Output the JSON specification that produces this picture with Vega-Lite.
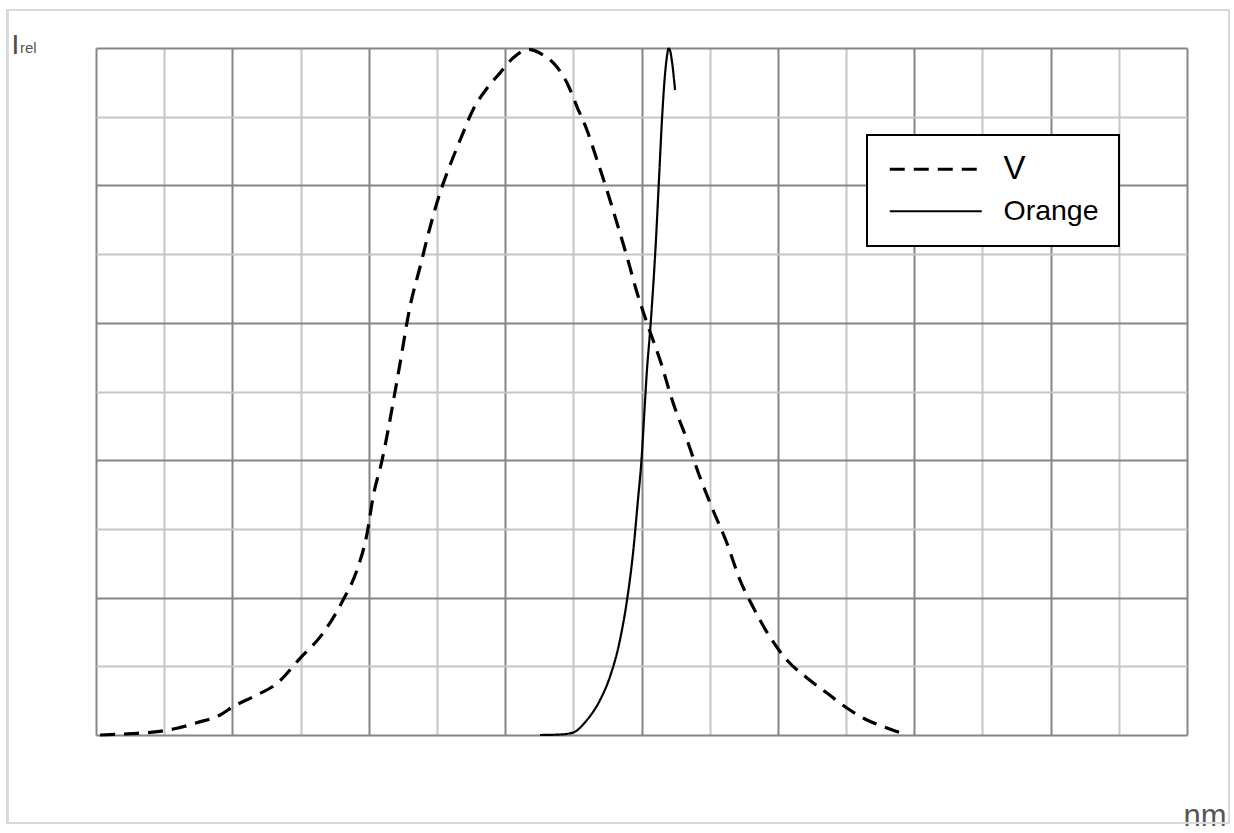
{
  "$schema": "https://vega.github.io/schema/vega-lite/v6.json",
  "width": 1091,
  "height": 687,
  "autosize": "none",
  "padding": {"left": 96, "top": 48, "right": 47, "bottom": 98},
  "background": "white",
  "config": {"view": {"stroke": null}, "font": "Liberation Sans"},
  "title": {"text": "rel", "orient": "top", "anchor": "start", "frame": "group", "offset": 0, "baseline": "alphabetic", "dx": -76, "dy": 59, "fontSize": 15, "fontWeight": "normal", "color": "#555555", "font": "Liberation Sans"},
  "data": {"values": [
    {"series": "V", "nm": 401.5, "rel": 0},
    {"series": "V", "nm": 415.0, "rel": 0.0025},
    {"series": "V", "nm": 422.4, "rel": 0.0048},
    {"series": "V", "nm": 429.7, "rel": 0.0098},
    {"series": "V", "nm": 437.0, "rel": 0.0179},
    {"series": "V", "nm": 445.5, "rel": 0.0291},
    {"series": "V", "nm": 450.2, "rel": 0.0412},
    {"series": "V", "nm": 457.6, "rel": 0.0557},
    {"series": "V", "nm": 466.4, "rel": 0.0753},
    {"series": "V", "nm": 474.8, "rel": 0.1116},
    {"series": "V", "nm": 483.2, "rel": 0.148},
    {"series": "V", "nm": 490.6, "rel": 0.1965},
    {"series": "V", "nm": 495.7, "rel": 0.2402},
    {"series": "V", "nm": 499.4, "rel": 0.2936},
    {"series": "V", "nm": 501.6, "rel": 0.3469},
    {"series": "V", "nm": 504.9, "rel": 0.4003},
    {"series": "V", "nm": 507.1, "rel": 0.444},
    {"series": "V", "nm": 508.9, "rel": 0.4833},
    {"series": "V", "nm": 511.5, "rel": 0.5415},
    {"series": "V", "nm": 515.1, "rel": 0.623},
    {"series": "V", "nm": 518.8, "rel": 0.6812},
    {"series": "V", "nm": 522.5, "rel": 0.7394},
    {"series": "V", "nm": 526.1, "rel": 0.7889},
    {"series": "V", "nm": 528.7, "rel": 0.818},
    {"series": "V", "nm": 533.5, "rel": 0.8661},
    {"series": "V", "nm": 538.2, "rel": 0.9098},
    {"series": "V", "nm": 543.4, "rel": 0.9418},
    {"series": "V", "nm": 548.1, "rel": 0.9636},
    {"series": "V", "nm": 552.9, "rel": 0.9854},
    {"series": "V", "nm": 558.5, "rel": 0.998},
    {"series": "V", "nm": 563.9, "rel": 0.9898},
    {"series": "V", "nm": 569.0, "rel": 0.9723},
    {"series": "V", "nm": 572.7, "rel": 0.9491},
    {"series": "V", "nm": 576.4, "rel": 0.9141},
    {"series": "V", "nm": 580.0, "rel": 0.8806},
    {"series": "V", "nm": 583.7, "rel": 0.837},
    {"series": "V", "nm": 587.3, "rel": 0.7933},
    {"series": "V", "nm": 591.0, "rel": 0.7453},
    {"series": "V", "nm": 594.7, "rel": 0.6958},
    {"series": "V", "nm": 598.4, "rel": 0.6434},
    {"series": "V", "nm": 602.0, "rel": 0.5997},
    {"series": "V", "nm": 606.8, "rel": 0.5459},
    {"series": "V", "nm": 611.6, "rel": 0.4833},
    {"series": "V", "nm": 616.7, "rel": 0.4294},
    {"series": "V", "nm": 621.4, "rel": 0.3755},
    {"series": "V", "nm": 626.2, "rel": 0.3275},
    {"series": "V", "nm": 631.3, "rel": 0.2795},
    {"series": "V", "nm": 636.1, "rel": 0.2256},
    {"series": "V", "nm": 640.9, "rel": 0.1863},
    {"series": "V", "nm": 647.1, "rel": 0.1426},
    {"series": "V", "nm": 653.3, "rel": 0.1092},
    {"series": "V", "nm": 660.7, "rel": 0.083},
    {"series": "V", "nm": 668.0, "rel": 0.0611},
    {"series": "V", "nm": 675.3, "rel": 0.0393},
    {"series": "V", "nm": 682.7, "rel": 0.0218},
    {"series": "V", "nm": 690.0, "rel": 0.0102},
    {"series": "V", "nm": 697.3, "rel": 0},
    {"series": "Orange", "nm": 562.8, "rel": 0},
    {"series": "Orange", "nm": 570.1, "rel": 0.0007},
    {"series": "Orange", "nm": 574.9, "rel": 0.0036},
    {"series": "Orange", "nm": 580.0, "rel": 0.0218},
    {"series": "Orange", "nm": 584.8, "rel": 0.0509},
    {"series": "Orange", "nm": 588.4, "rel": 0.0844},
    {"series": "Orange", "nm": 592.1, "rel": 0.1383},
    {"series": "Orange", "nm": 594.7, "rel": 0.1965},
    {"series": "Orange", "nm": 596.9, "rel": 0.2649},
    {"series": "Orange", "nm": 598.7, "rel": 0.3421},
    {"series": "Orange", "nm": 600.0, "rel": 0.4003},
    {"series": "Orange", "nm": 601.1, "rel": 0.4731},
    {"series": "Orange", "nm": 602.0, "rel": 0.5313},
    {"series": "Orange", "nm": 603.1, "rel": 0.5852},
    {"series": "Orange", "nm": 604.2, "rel": 0.6477},
    {"series": "Orange", "nm": 605.3, "rel": 0.7205},
    {"series": "Orange", "nm": 606.4, "rel": 0.8079},
    {"series": "Orange", "nm": 607.5, "rel": 0.8952},
    {"series": "Orange", "nm": 608.6, "rel": 0.9607},
    {"series": "Orange", "nm": 609.4, "rel": 0.9898},
    {"series": "Orange", "nm": 609.9, "rel": 0.9993},
    {"series": "Orange", "nm": 610.4, "rel": 0.9971},
    {"series": "Orange", "nm": 611.2, "rel": 0.9796},
    {"series": "Orange", "nm": 612.3, "rel": 0.9389}
  ]},
  "layer": [
    {
      "mark": {"type": "line", "color": "black", "interpolate": "monotone", "strokeCap": "butt"},
      "encoding": {
        "x": {"field": "nm", "type": "quantitative",
          "scale": {"domain": [400, 800], "nice": false, "zero": false},
          "axis": {"values": [400,425,450,475,500,525,550,575,600,625,650,675,700,725,750,775,800],
            "grid": true, "labels": false, "ticks": false, "domain": false,
            "gridColor": {"condition": {"test": "datum.value % 50 === 0", "value": "#858585"}, "value": "#c6c6c6"},
            "gridWidth": 2,
            "title": "nm", "titleX": 1087, "titleY": 90, "titleAlign": "left", "titleBaseline": "alphabetic",
            "titleFontSize": 31, "titleColor": "#555555", "titleFontWeight": "normal", "titleFont": "Liberation Sans"}},
        "y": {"field": "rel", "type": "quantitative",
          "scale": {"domain": [0, 1], "nice": false},
          "axis": {"values": [0,0.1,0.2,0.3,0.4,0.5,0.6,0.7,0.8,0.9,1],
            "grid": true, "labels": false, "ticks": false, "domain": false,
            "gridColor": {"condition": {"test": "round(datum.value*10) % 2 === 0", "value": "#858585"}, "value": "#c6c6c6"},
            "gridWidth": 2,
            "title": "I", "titleAngle": 0, "titleX": -85, "titleY": 5, "titleAlign": "left", "titleBaseline": "alphabetic",
            "titleFontSize": 28, "titleColor": "#4d4d4d", "titleFontWeight": "normal", "titleFont": "Liberation Sans"}},
        "strokeDash": {"field": "series", "type": "nominal",
          "scale": {"domain": ["V", "Orange"], "range": [[15, 9], [1, 0]]},
          "legend": {"title": null, "orient": "none", "legendX": 771, "legendY": 87, "direction": "vertical",
            "symbolType": "M-1,0H7", "symbolSize": 529, "symbolStrokeColor": "black", "symbolFillColor": "transparent", "symbolStrokeWidth": 3,
            "labelFontSize": 29, "labelFont": "Liberation Sans", "labelColor": "black", "labelOffset": 88,
            "padding": 20, "rowPadding": 10, "strokeColor": "black", "fillColor": "white",
            "encode": {
              "legend": {"update": {"strokeWidth": {"value": 2}}},
              "symbols": {"update": {"strokeWidth": {"signal": "datum.value === 'V' ? 3 : 2"}, "strokeDash": {"signal": "datum.value === 'V' ? [18, 10] : [1, 0]"}}},
              "labels": {"update": {"fontSize": {"signal": "datum.value === 'V' ? 33 : 28.5"}}}
            }}},
        "strokeWidth": {"field": "series", "type": "nominal",
          "scale": {"domain": ["V", "Orange"], "range": [3.2, 2.2]}, "legend": null}
      }
    },
    {
      "mark": {"type": "rect", "fill": null, "stroke": "#d9d9d9", "strokeWidth": 2, "clip": false},
      "encoding": {
        "x": {"datum": 367.4, "type": "quantitative"},
        "x2": {"datum": 815.4},
        "y": {"datum": 1.0553, "type": "quantitative"},
        "y2": {"datum": -0.128}
      }
    }
  ]
}
